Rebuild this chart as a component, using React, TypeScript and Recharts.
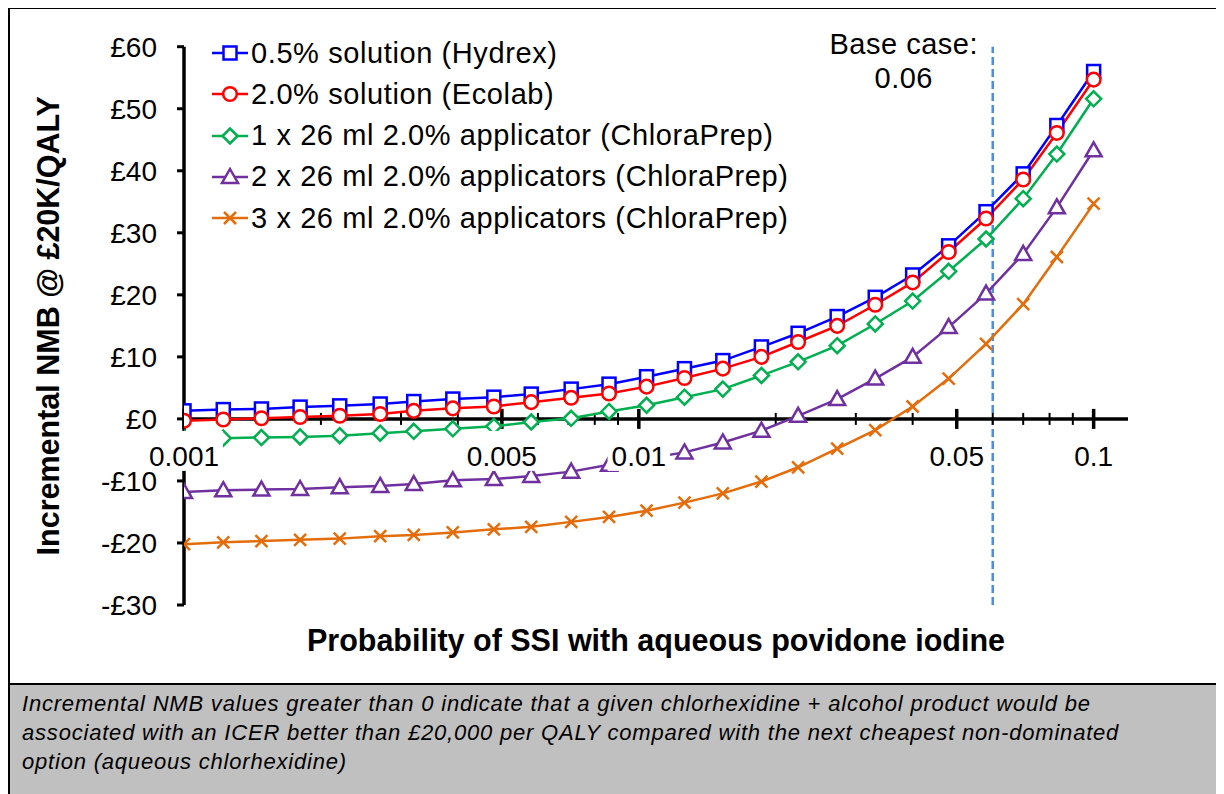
import React from 'react';
import { LineChart, Line, XAxis, YAxis, ReferenceLine, ReferenceDot, Legend } from 'recharts';

// ---------- data ----------
const probabilities = [
  0.001, 0.00122, 0.00148, 0.0018, 0.0022, 0.0027, 0.0032, 0.0039, 0.0048, 0.0058,
  0.0071, 0.0086, 0.0104, 0.0126, 0.0153, 0.0186, 0.0224, 0.0273, 0.0331, 0.04,
  0.048, 0.058, 0.07, 0.083, 0.1,
];
const hydrex = [
  1.3, 1.5, 1.6, 1.9, 2.1, 2.4, 2.8, 3.2, 3.5, 4.0, 4.8, 5.6, 6.8, 8.1, 9.4, 11.6,
  13.8, 16.5, 19.6, 23.2, 27.9, 33.4, 39.5, 47.3, 56.0,
];
const ecolab = [
  -0.3, -0.1, 0.1, 0.3, 0.5, 0.8, 1.3, 1.7, 2.0, 2.7, 3.4, 4.1, 5.2, 6.6, 8.1, 10.0,
  12.4, 15.0, 18.4, 22.0, 26.9, 32.3, 38.6, 46.1, 54.7,
];
const chloraPrep1 = [
  -3.1, -3.1, -3.0, -2.9, -2.7, -2.3, -2.0, -1.6, -1.2, -0.5, 0.1, 1.2, 2.2, 3.5, 4.8,
  7.0, 9.2, 11.8, 15.3, 19.0, 23.8, 29.0, 35.5, 42.7, 51.6,
];
const chloraPrep2 = [
  -11.8, -11.5, -11.4, -11.3, -11.0, -10.8, -10.5, -9.9, -9.7, -9.2, -8.5, -7.4, -6.4,
  -5.4, -3.8, -1.9, 0.5, 3.2, 6.5, 10.0, 14.8, 20.2, 26.6, 34.1, 43.3,
];
const chloraPrep3 = [
  -20.2, -19.9, -19.7, -19.5, -19.3, -18.9, -18.7, -18.3, -17.8, -17.4, -16.6, -15.8,
  -14.8, -13.5, -12.0, -10.1, -7.8, -4.8, -1.8, 2.0, 6.5, 12.1, 18.5, 26.1, 34.7,
];

const seriesKeys = ['hydrex', 'ecolab', 'cp1', 'cp2', 'cp3'];
const seriesNames = [
  '0.5% solution (Hydrex)',
  '2.0% solution (Ecolab)',
  '1 x 26 ml 2.0% applicator (ChloraPrep)',
  '2 x 26 ml 2.0% applicators (ChloraPrep)',
  '3 x 26 ml 2.0% applicators (ChloraPrep)',
];
const seriesColors = ['#0000FF', '#FF0000', '#00B050', '#7030A0', '#E46C0A'];
const seriesShapes = ['square', 'circle', 'diamond', 'triangle', 'cross'];

const yTicks = [-30, -20, -10, 0, 10, 20, 30, 40, 50, 60];
const majorTicks = [0.001, 0.005, 0.01, 0.05, 0.1];
const majorTickLabels = ['0.001', '0.005', '0.01', '0.05', '0.1'];
const minorTicks = [0.002, 0.003, 0.004, 0.006, 0.007, 0.008, 0.009, 0.02, 0.03, 0.04, 0.06, 0.07, 0.08, 0.09];
const baseCase = 0.06;
const baseCaseLines = ['Base case:', '0.06'];

const yLabel = 'Incremental NMB @ £20K/QALY';
const xLabel = 'Probability of SSI with aqueous povidone iodine';
const captionLines = [
  'Incremental NMB values greater than 0 indicate that a given chlorhexidine + alcohol product would be',
  'associated with an ICER better than £20,000 per QALY compared with the next cheapest non-dominated',
  'option (aqueous chlorhexidine)',
];

const data = probabilities.map((p, i) => ({
  p,
  hydrex: hydrex[i],
  ecolab: ecolab[i],
  cp1: chloraPrep1[i],
  cp2: chloraPrep2[i],
  cp3: chloraPrep3[i],
}));

const FONT = '"Liberation Sans", Arial, Helvetica, sans-serif';

// ---------- markers ----------
function drawMarker(shape: string, cx: number, cy: number, color: string, key?: any) {
  const sw = 2.5;
  switch (shape) {
    case 'square':
      return <rect key={key} x={cx - 6.5} y={cy - 6.5} width={13} height={13} fill="#fff" stroke={color} strokeWidth={sw} />;
    case 'circle':
      return <circle key={key} cx={cx} cy={cy} r={6.8} fill="#fff" stroke={color} strokeWidth={sw} />;
    case 'diamond':
      return (
        <polygon key={key} points={`${cx},${cy - 7.5} ${cx + 7.5},${cy} ${cx},${cy + 7.5} ${cx - 7.5},${cy}`}
          fill="#fff" stroke={color} strokeWidth={sw} />
      );
    case 'triangle':
      return (
        <polygon key={key} points={`${cx},${cy - 8} ${cx + 8},${cy + 6} ${cx - 8},${cy + 6}`}
          fill="#fff" stroke={color} strokeWidth={sw} />
      );
    default:
      return (
        <g key={key}>
          <line x1={cx - 6} y1={cy - 6} x2={cx + 6} y2={cy + 6} stroke={color} strokeWidth={sw} />
          <line x1={cx - 6} y1={cy + 6} x2={cx + 6} y2={cy - 6} stroke={color} strokeWidth={sw} />
        </g>
      );
  }
}

const makeDot = (shape: string, color: string) => (props: any) => {
  const { cx, cy, index } = props;
  if (cx == null || cy == null) return <g key={`e${index}`} />;
  return drawMarker(shape, cx, cy, color, `d${index}`);
};

// ---------- x-axis tick marks & labels (drawn through ReferenceDot at y = 0) ----------
const tickMarkShape = (major: boolean) => (props: any) => {
  const { cx, cy } = props;
  const h = major ? 10 : 6;
  return <line x1={cx} y1={cy - h} x2={cx} y2={cy + h} stroke="#000" strokeWidth={major ? 3.5 : 2} />;
};

const TICK_FS = 28;
const tickLabelShape = (label: string) => (props: any) => {
  const { cx, cy } = props;
  let w = 0;
  for (const ch of label) w += ch === '.' ? 0.278 : 0.556;
  w = w * TICK_FS + 8;
  return (
    <g>
      <rect x={cx - w / 2} y={cy + 12} width={w} height={40} fill="#fff" />
      <text x={cx} y={cy + 47} textAnchor="middle" fontFamily={FONT} fontSize={TICK_FS} fill="#000">
        {label}
      </text>
    </g>
  );
};

// ---------- legend ----------
const LegendContent = () => (
  <div style={{ fontFamily: FONT, fontSize: 29, letterSpacing: 0.6, color: '#000', lineHeight: 1 }}>
    {seriesKeys.map((k, idx) => (
      <div key={k} style={{ display: 'flex', alignItems: 'center', height: 41.3, whiteSpace: 'nowrap' }}>
        <svg width={36} height={20} style={{ display: 'block' }}>
          <line x1={0} y1={10} x2={36} y2={10} stroke={seriesColors[idx]} strokeWidth={2.5} />
          {drawMarker(seriesShapes[idx], 18, 10, seriesColors[idx])}
        </svg>
        <span style={{ marginLeft: 3 }}>{seriesNames[idx]}</span>
      </div>
    ))}
  </div>
);

const yTickFormatter = (v: number) => (v < 0 ? `-£${-v}` : `£${v}`);

export default function App() {
  return (
    <div
      style={{
        position: 'relative',
        width: 1211,
        height: 790,
        marginTop: -1,
        border: '2px solid #000',
        borderBottom: 'none',
        boxSizing: 'border-box',
        background: '#fff',
        overflow: 'hidden',
      }}
    >
      <LineChart
        width={1207}
        height={674}
        data={data}
        margin={{ top: 37.7, right: 89, bottom: 28, left: 34 }}
      >
        <XAxis
          dataKey="p"
          type="number"
          scale="log"
          domain={[0.001, 0.119]}
          allowDataOverflow
          axisLine={false}
          tickLine={false}
          tick={false}
          height={50}
          label={(props: any) => {
            const vb = props.viewBox;
            return (
              <text x={vb.x + vb.width / 2} y={vb.y + 46} textAnchor="middle" fontFamily={FONT}
                fontWeight="bold" fontSize={30.5} fill="#000">
                {xLabel}
              </text>
            );
          }}
        />
        <YAxis
          type="number"
          domain={[-30, 60]}
          ticks={yTicks}
          interval={0}
          width={140}
          tickFormatter={yTickFormatter}
          axisLine={{ stroke: '#000', strokeWidth: 3.5 }}
          tickLine={{ stroke: '#000', strokeWidth: 3 }}
          tickSize={7}
          tickMargin={20}
          tick={{ fontFamily: FONT, fontSize: 28, fill: '#000' }}
          label={(props: any) => {
            const vb = props.viewBox;
            const x = vb.x + 4;
            const y = vb.y + vb.height / 2;
            return (
              <text x={x} y={y} transform={`rotate(-90, ${x}, ${y})`} textAnchor="middle"
                dominantBaseline="central" fontFamily={FONT} fontWeight="bold" fontSize={30.5} fill="#000">
                {yLabel}
              </text>
            );
          }}
        />

        <ReferenceLine
          x={baseCase}
          stroke="#4F8FD8"
          strokeWidth={2.5}
          strokeDasharray="8 4"
          zIndex={350}
          label={(props: any) => {
            const vb = props.viewBox;
            const cx = vb.x - 89;
            return (
              <text textAnchor="middle" fontFamily={FONT} fontSize={29} letterSpacing={0.5} fill="#000">
                <tspan x={cx} y={vb.y + 7}>{baseCaseLines[0]}</tspan>
                <tspan x={cx} y={vb.y + 41}>{baseCaseLines[1]}</tspan>
              </text>
            );
          }}
        />
        <ReferenceLine y={0} stroke="#000" strokeWidth={3.5} zIndex={360} />
        {minorTicks.map((t) => (
          <ReferenceDot key={`mi${t}`} x={t} y={0} r={0} zIndex={370} shape={tickMarkShape(false)} />
        ))}
        {majorTicks.map((t) => (
          <ReferenceDot key={`ma${t}`} x={t} y={0} r={0} zIndex={370} shape={tickMarkShape(true)} />
        ))}

        {seriesKeys.map((k, i) => (
          <Line
            key={k}
            dataKey={k}
            name={seriesNames[i]}
            type="linear"
            stroke={seriesColors[i]}
            strokeWidth={2.5}
            dot={makeDot(seriesShapes[i], seriesColors[i])}
            activeDot={false}
            isAnimationActive={false}
          />
        ))}

        {majorTicks.map((t, i) => (
          <ReferenceDot key={`lb${t}`} x={t} y={0} r={0} zIndex={2500} shape={tickLabelShape(majorTickLabels[i])} />
        ))}

        <Legend
          layout="vertical"
          align="center"
          verticalAlign="middle"
          content={<LegendContent />}
          wrapperStyle={{ top: 23.4, left: 202, width: 'auto', height: 'auto' }}
        />
      </LineChart>
      <div
        style={{
          position: 'absolute',
          left: 0,
          top: 674,
          width: 1207,
          height: 120,
          background: '#C0C0C0',
          borderTop: '2px solid #000',
          fontFamily: FONT,
          fontStyle: 'italic',
          fontSize: 22,
          letterSpacing: 0.8,
          lineHeight: '29px',
          color: '#000',
          paddingLeft: 12,
          paddingTop: 4,
          boxSizing: 'border-box',
        }}
      >
        {captionLines.map((l, i) => (
          <div key={i} style={{ whiteSpace: 'nowrap' }}>{l}</div>
        ))}
      </div>
    </div>
  );
}
